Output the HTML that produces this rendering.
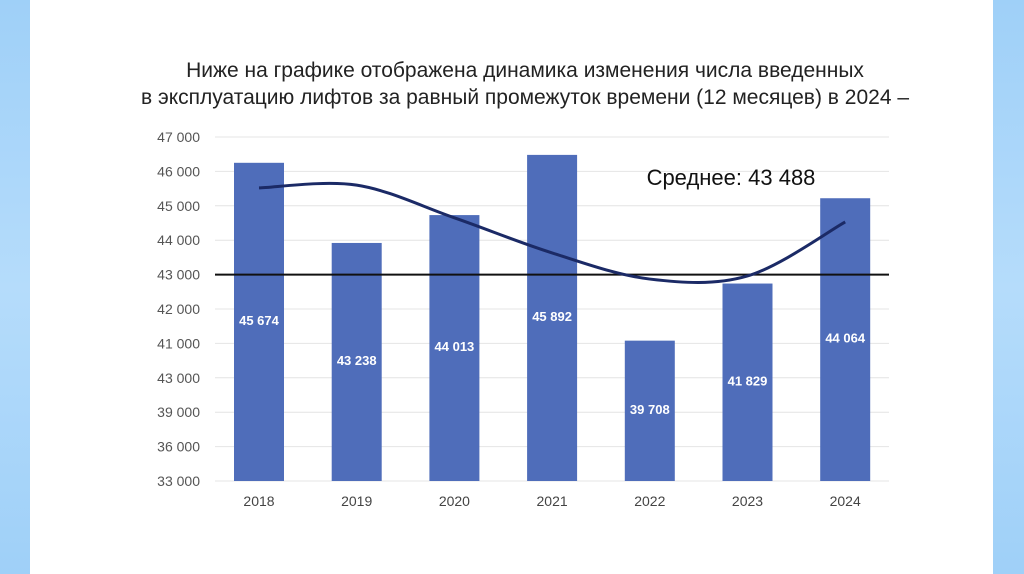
<!DOCTYPE html>
<html><head><meta charset="utf-8"><style>
html,body{margin:0;padding:0;width:1024px;height:574px;overflow:hidden;background:#fff;font-family:"Liberation Sans","Noto Sans CJK SC",sans-serif}
.strip{position:absolute;top:0;height:574px;background:linear-gradient(180deg,#9fd0f8,#b5dcfb 50%,#9fd0f8)}
</style></head><body>
<div class="strip" style="left:0;width:30px"></div>
<div class="strip" style="left:993px;width:31px"></div>
<svg width="1024" height="574" style="position:absolute;left:0;top:0">
<text x="525" y="77" text-anchor="middle" font-size="21" fill="#222">Ниже на графике отображена динамика изменения числа введенных</text>
<text x="525" y="104" text-anchor="middle" font-size="21" fill="#222">в эксплуатацию лифтов за равный промежуток времени (12 месяцев) в 2024 –</text>
<g id="grid"></g><g id="bars"></g><g id="mean"></g><g id="trend"></g><g id="labels"></g>
<text x="731" y="185" text-anchor="middle" font-size="22" fill="#111">Среднее: 43 488</text>
</svg>
<script>
const categories=["2018","2019","2020","2021","2022","2023","2024"];
const barValues=[46250,43920,44730,46480,41080,42740,45220];
const barLabels=["45 674","43 238","44 013","45 892","39 708","41 829","44 064"];
const trendValues=[45520,45600,44650,43630,42870,42960,44530];
const tickLabels=["47 000","46 000","45 000","44 000","43 000","42 000","41 000","43 000","39 000","36 000","33 000"];
const meanValue=43000;
const NS="http://www.w3.org/2000/svg";
const yTop=137,step=34.4;
function y(v){return yTop+(47000-v)/1000*step;}
function x(i){return 259+i*97.7;}
function mk(t,a,p){const e=document.createElementNS(NS,t);for(const k in a)e.setAttribute(k,a[k]);document.getElementById(p).appendChild(e);return e;}
tickLabels.forEach((t,i)=>{const yy=yTop+i*step;
const l=mk('line',{x1:215,x2:889,y1:yy,y2:yy,stroke:'#e4e4e4','stroke-width':1},'grid');


const tx=mk('text',{x:200,y:yy+5,'text-anchor':'end','font-size':14,fill:'#555'},'grid');tx.textContent=t;

});
const base=yTop+10*step;
categories.forEach((c,i)=>{const top=y(barValues[i]);
const r=mk('rect',{x:x(i)-25,y:top,width:50,height:base-top,fill:'#4f6dba'},'bars');


const lt=mk('text',{x:x(i),y:(top+base)/2+3,'text-anchor':'middle','font-size':13,'font-weight':'bold',fill:'#fff'},'labels');lt.textContent=barLabels[i];


const xt=mk('text',{x:x(i),y:506,'text-anchor':'middle','font-size':14,fill:'#444'},'labels');xt.textContent=c;

});
const m=mk('line',{x1:215,x2:889,y1:y(meanValue),y2:y(meanValue),stroke:'#111','stroke-width':2},'mean');


const pts=trendValues.map((v,i)=>[x(i),y(v)]);
let d='M'+pts[0][0]+','+pts[0][1];
for(let i=0;i<pts.length-1;i++){const p0=pts[Math.max(i-1,0)],p1=pts[i],p2=pts[i+1],p3=pts[Math.min(i+2,pts.length-1)];
d+=` C${p1[0]+(p2[0]-p0[0])/6},${p1[1]+(p2[1]-p0[1])/6} ${p2[0]-(p3[0]-p1[0])/6},${p2[1]-(p3[1]-p1[1])/6} ${p2[0]},${p2[1]}`;}
const tp=mk('path',{d:d,fill:'none',stroke:'#1b2a66','stroke-width':3},'trend');


</script>
</body></html>
